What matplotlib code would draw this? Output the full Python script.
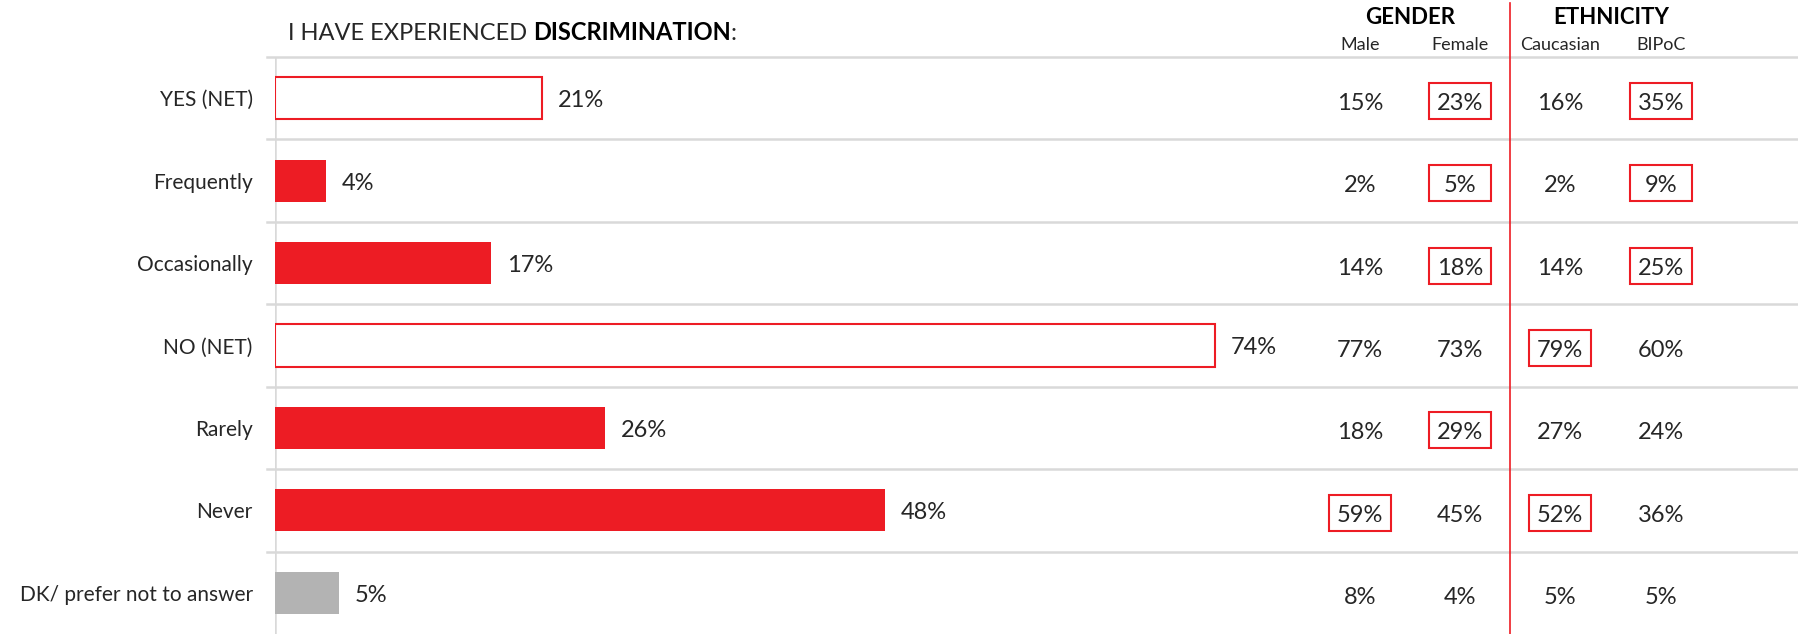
import matplotlib
matplotlib.use('Agg')
import matplotlib.pyplot as plt
from matplotlib import transforms
from matplotlib.patches import Rectangle
from matplotlib.lines import Line2D

categories = ['YES (NET)', 'Frequently', 'Occasionally', 'NO (NET)', 'Rarely', 'Never',
              'DK/ prefer not to answer']
total = [21, 4, 17, 74, 26, 48, 5]
bar_kind = ['net', 'sub', 'sub', 'net', 'sub', 'sub', 'dk']

col_names = ['Male', 'Female', 'Caucasian', 'BIPoC']
male = [15, 2, 14, 77, 18, 59, 8]
female = [23, 5, 18, 73, 29, 45, 4]
caucasian = [16, 2, 14, 79, 27, 52, 5]
bipoc = [35, 9, 25, 60, 24, 36, 5]
# 1 = value is boxed in red
male_hi = [0, 0, 0, 0, 0, 1, 0]
female_hi = [1, 1, 1, 0, 1, 0, 0]
caucasian_hi = [0, 0, 0, 1, 0, 1, 0]
bipoc_hi = [1, 1, 1, 0, 0, 0, 0]

RED = '#ED1C24'
GREY = '#B3B3B3'
GRID = '#D9D9D9'
TXT = '#262626'

plt.rcParams['font.family'] = ['Lato', 'DejaVu Sans']

W, H = 1799, 634
fig = plt.figure(figsize=(W / 100, H / 100), dpi=100)
ax_left, ax_top = 275, 57
ax = fig.add_axes([ax_left / W, 0, (W - ax_left) / W, (H - ax_top) / H])
px_per_pct = 12.7
ax.set_xlim(0, (W - ax_left) / px_per_pct)
ax.set_ylim(len(categories) - 0.5, -0.5)

ypos = list(range(len(categories)))
for y, v, k in zip(ypos, total, bar_kind):
    if k == 'net':
        ax.barh(y, v, height=0.51, color='white', edgecolor=RED, linewidth=1.5, zorder=3)
    elif k == 'dk':
        ax.barh(y, v, height=0.51, color=GREY, zorder=3)
    else:
        ax.barh(y, v, height=0.51, color=RED, zorder=3)
    ax.annotate(f'{v}%', (v, y + 0.03), xytext=(11.5, 0), textcoords='offset points',
                va='center', ha='left', fontsize=17, color=TXT)

# gridlines and axis line
ext = 8 / (W - ax_left)
for g in [-0.5] + [i + 0.5 for i in range(len(categories) - 1)]:
    ax.axhline(g, xmin=-ext, xmax=1, color=GRID, linewidth=1.8, clip_on=False, zorder=1)
ax.axvline(0, color=GRID, linewidth=1.8, zorder=2)

for s in ax.spines.values():
    s.set_visible(False)
ax.set_xticks([])
ax.set_yticks(ypos)
ax.set_yticklabels(categories, fontsize=15, color=TXT)
ax.tick_params(axis='y', length=0, pad=16)

# title, plain part then bold part
renderer = fig.canvas.get_renderer()
t1 = fig.text(288 / W, 1 - 33 / H, 'I HAVE EXPERIENCED ', fontsize=17, color=TXT,
              va='center', ha='left')
bb = t1.get_window_extent(renderer)
t2 = fig.text(bb.x1 / W, 1 - 33 / H, 'DISCRIMINATION', fontsize=17, color='black',
              fontweight='bold', va='center', ha='left')
bb2 = t2.get_window_extent(renderer)
fig.text(bb2.x1 / W, 1 - 33 / H, ':', fontsize=17, color=TXT, va='center', ha='left')

# breakdown table
col_x = [1360, 1460, 1560, 1661]
fig.text(1410 / W, 1 - 18 / H, 'GENDER', fontsize=16, fontweight='bold', color='black',
         ha='center', va='center')
fig.text(1611 / W, 1 - 18 / H, 'ETHNICITY', fontsize=16, fontweight='bold', color='black',
         ha='center', va='center')
for cx, name in zip(col_x, col_names):
    fig.text(cx / W, 1 - 45 / H, name, fontsize=13, color=TXT, ha='center', va='center')

trans = transforms.blended_transform_factory(fig.transFigure, ax.transData)
cols = [(male, male_hi), (female, female_hi), (caucasian, caucasian_hi), (bipoc, bipoc_hi)]
for cx, (vals, hi) in zip(col_x, cols):
    for y, v, h in zip(ypos, vals, hi):
        ax.text(cx / W, y + 0.06, f'{v}%', transform=trans, fontsize=17, color=TXT,
                ha='center', va='center', clip_on=False)
        if h:
            bw = 62 / W
            bh = 36 / 82.4
            ax.add_patch(Rectangle((cx / W - bw / 2, y + 0.03 - bh / 2), bw, bh,
                                   transform=trans, fill=False, edgecolor=RED,
                                   linewidth=1.5, clip_on=False, zorder=4))

fig.add_artist(Line2D([1510 / W, 1510 / W], [0, 1 - 3 / H], color=RED, linewidth=1.2))

fig.savefig('out.png', dpi=100)
